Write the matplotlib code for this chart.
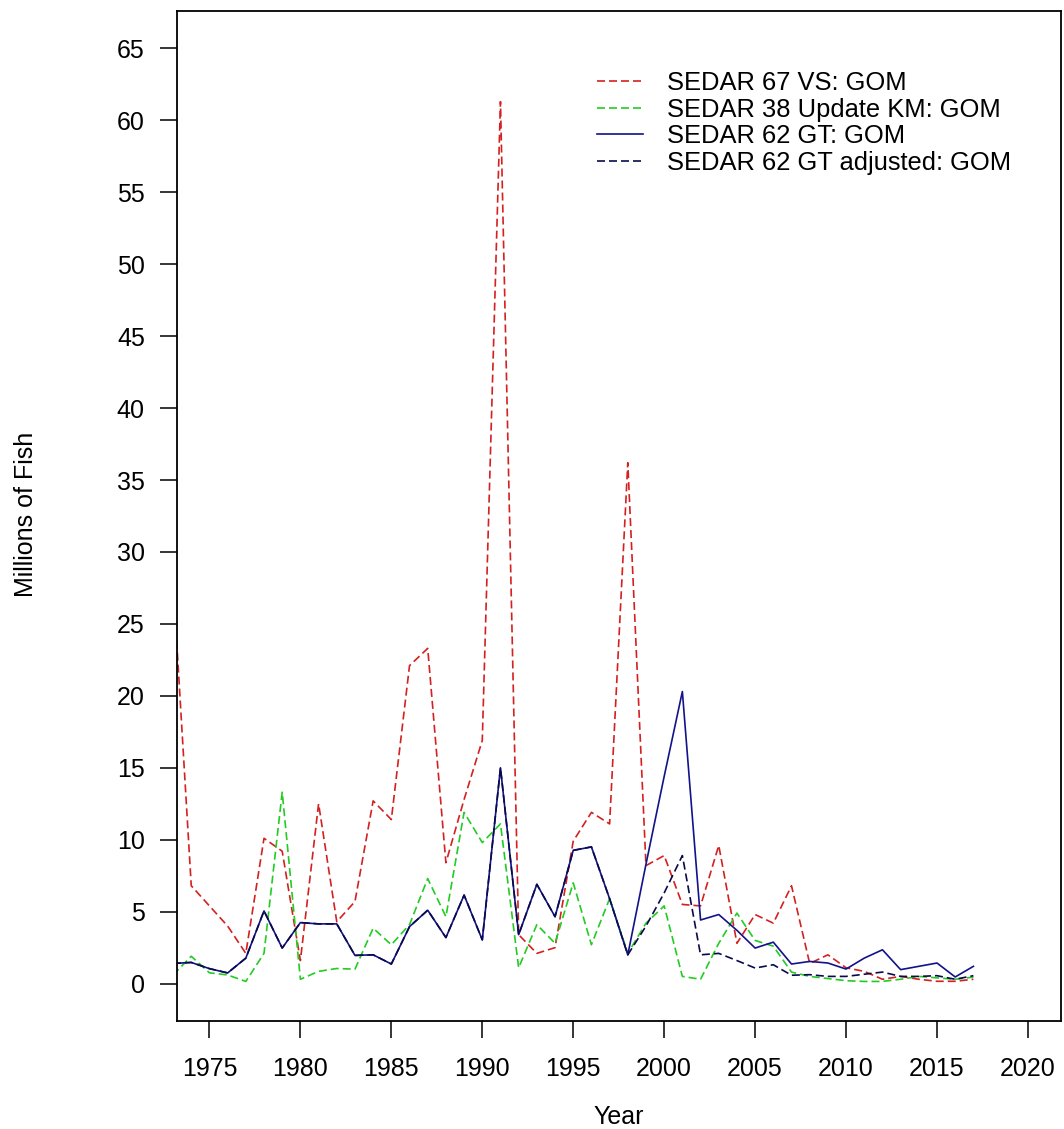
import matplotlib
matplotlib.use("Agg")
import matplotlib.pyplot as plt

plt.rcParams["font.family"] = ["Liberation Sans", "DejaVu Sans"]

years = list(range(1973, 2018))

vs_gom = [28.0, 6.8, 5.4, 4.0, 2.1, 10.1, 9.2, 1.6, 12.5, 4.3,
          5.7, 12.7, 11.4, 22.1, 23.3, 8.4, 12.8, 16.9, 61.3, 3.4,
          2.1, 2.5, 9.9, 11.9, 11.1, 36.2, 8.2, 8.9, 5.5, 5.4,
          9.6, 2.8, 4.8, 4.2, 6.8, 1.4, 2.0, 1.1, 0.85, 0.3,
          0.5, 0.3, 0.16, 0.16, 0.3]

km_gom = [0.6, 1.9, 0.75, 0.6, 0.15, 2.1, 13.3, 0.3, 0.85, 1.05,
          1.0, 3.85, 2.7, 4.1, 7.3, 4.65, 11.9, 9.8, 11.1, 1.1,
          4.1, 2.8, 7.0, 2.7, 5.9, 2.1, 4.2, 5.4, 0.5, 0.3,
          2.8, 4.9, 3.0, 2.6, 0.8, 0.5, 0.35, 0.2, 0.15, 0.15,
          0.3, 0.5, 0.4, 0.3, 0.45]

gt_gom = [1.4, 1.47, 1.04, 0.74, 1.77, 5.05, 2.47, 4.24, 4.15, 4.15,
          1.96, 2.0, 1.36, 3.96, 5.1, 3.2, 6.15, 3.04, 15.0, 3.4,
          6.9, 4.65, 9.26, 9.5, 5.9, 2.0, 8.3, 14.4, 20.3, 4.42,
          4.8, 3.7, 2.47, 2.88, 1.36, 1.54, 1.43, 1.01, 1.77, 2.35,
          0.97, 1.2, 1.43, 0.46, 1.2]

gt_adj_gom = [1.4, 1.47, 1.04, 0.74, 1.77, 5.05, 2.47, 4.24, 4.15, 4.15,
              1.96, 2.0, 1.36, 3.96, 5.1, 3.2, 6.15, 3.04, 15.0, 3.4,
              6.9, 4.65, 9.26, 9.5, 5.9, 2.0, 4.0, 6.3, 8.9, 2.0,
              2.1, 1.6, 1.08, 1.31, 0.58, 0.62, 0.5, 0.5, 0.65, 0.8,
              0.5, 0.5, 0.55, 0.3, 0.55]

labels = ["SEDAR 67 VS: GOM", "SEDAR 38 Update KM: GOM",
          "SEDAR 62 GT: GOM", "SEDAR 62 GT adjusted: GOM"]

W, H = 1064, 1129
fig = plt.figure(figsize=(W / 100, H / 100), dpi=100)
ax = fig.add_axes([176.7 / W, 1 - 1021 / H, 884 / W, 1010 / H])

lw = 1.2
dash = (4.8, 2.4)
ax.plot(years, vs_gom, color="#d42020", lw=lw, dashes=dash, label=labels[0])
ax.plot(years, km_gom, color="#22cc22", lw=lw, dashes=dash, label=labels[1])
ax.plot(years, gt_gom, color="#12128a", lw=lw, label=labels[2])
ax.plot(years, gt_adj_gom, color="#0a0a4a", lw=lw, dashes=dash, label=labels[3])

ax.set_xlim(1973.2, 2021.8)
ax.set_ylim(-2.6, 67.6)
ax.set_xticks(range(1975, 2021, 5))
ax.set_yticks(range(0, 66, 5))
ax.tick_params(axis="both", direction="out", length=12, width=1.1,
               labelsize=18, colors="black")
ax.tick_params(axis="x", pad=14)
ax.tick_params(axis="y", pad=11)
for s in ax.spines.values():
    s.set_linewidth(1.3)

fig.text(618.7 / W, 1 - 1117 / H, "Year", ha="center", va="center", fontsize=18)
fig.text(26 / W, 1 - 514 / H, "Millions of Fish", ha="center", va="center",
         rotation=90, fontsize=18)

ax.legend(loc="upper left", bbox_to_anchor=(597 / W, 1 - 71 / H),
          bbox_transform=fig.transFigure, frameon=False, fontsize=18.4,
          handlelength=1.8, handletextpad=0.93, labelspacing=0.1,
          borderpad=0, borderaxespad=0)

fig.savefig("out.png", dpi=100)
